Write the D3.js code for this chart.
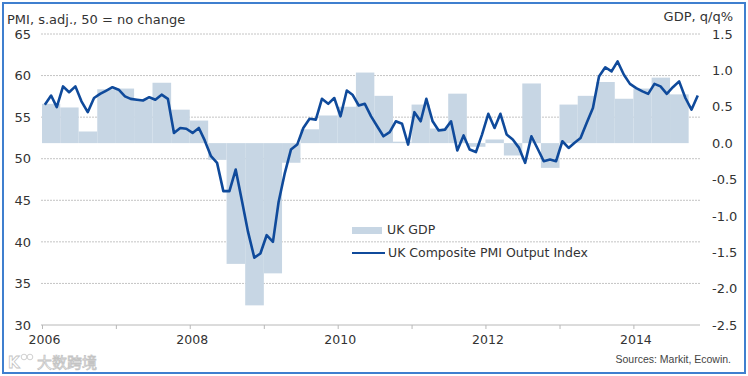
<!DOCTYPE html>
<html>
<head>
<meta charset="utf-8">
<script src="https://cdn.jsdelivr.net/npm/d3@7"></script>
<style>
  body { margin: 0; background: #fff; }
  svg text { font-family: "DejaVu Sans", sans-serif; fill: #333; }
</style>
</head>
<body>
<div id="chart"></div>
<script>
// UK composite PMI output index, monthly from Jan 2006 to Nov 2014
const pmiValues = [
    56.5, 57.6, 56.2, 58.7, 58.0, 58.7, 56.9, 55.6, 57.3, 57.8, 58.2, 58.6,
    58.3, 57.5, 57.2, 57.1, 57.0, 57.4, 57.1, 57.7, 57.2, 53.1, 53.7, 53.6,
    53.1, 53.7, 52.2, 50.3, 49.5, 46.1, 46.1, 48.7, 44.9, 41.2, 38.1, 38.6,
    40.8, 40.0, 44.8, 48.3, 51.1, 51.7, 53.7, 54.8, 54.7, 57.2, 56.6, 57.3,
    55.1, 58.2, 57.7, 56.4, 56.6, 55.1, 53.9, 52.7, 53.2, 54.5, 54.2, 51.7,
    55.6, 54.5, 57.2, 54.5, 53.4, 53.5, 54.5, 51.0, 52.8, 51.1, 50.8, 52.9,
    55.4, 53.7, 55.4, 52.9, 52.3, 51.3, 49.5, 52.7, 51.2, 49.7, 49.9, 49.7,
    52.1, 51.3, 51.9, 52.5, 54.3, 56.1, 59.9, 61.0, 60.5, 61.7, 60.1, 59.0,
    58.5, 58.1, 57.8, 59.0, 58.7, 57.8, 58.6, 59.3, 57.3, 55.9, 57.6
];

// UK GDP q/q %, quarterly from 2006 Q1 to 2014 Q3
const gdpValues = [
    0.54, 0.49, 0.16, 0.74,
    0.75, 0.60, 0.83, 0.46,
    0.31, -0.23, -1.66, -2.23,
    -1.79, -0.27, 0.19, 0.38,
    0.50, 0.97, 0.65, 0.02,
    0.53, 0.20, 0.68, -0.05,
    0.05, -0.17, 0.82, -0.34,
    0.53, 0.65, 0.84, 0.61,
    0.75, 0.90, 0.67
];

const pmiTicks = [30, 35, 40, 45, 50, 55, 60, 65];
const gdpTicks = [-2.5, -2.0, -1.5, -1.0, -0.5, 0.0, 0.5, 1.0, 1.5];
const yearTicks = [2006, 2007, 2008, 2009, 2010, 2011, 2012, 2013, 2014];
const yearLabels = [2006, 2008, 2010, 2012, 2014];

const width = 748, height = 376;
const barColor = "#c7d6e4";
const lineColor = "#0f4a9b";

const svg = d3.select("#chart").append("svg")
    .attr("width", width)
    .attr("height", height);

const x = d3.scaleTime()
    .domain([new Date(2006, 0, 1), new Date(2014, 11, 1)])
    .range([42, 701]);

const yL = d3.scaleLinear().domain([30, 65]).range([325, 34]);
const yR = d3.scaleLinear().domain([-2.5, 1.5]).range([325, 34]);

// frame
svg.append("rect")
    .attr("x", 3).attr("y", 3)
    .attr("width", 742).attr("height", 370)
    .attr("fill", "none")
    .attr("stroke", "#3f7fcf")
    .attr("stroke-width", 2);

// grid lines
svg.append("g")
    .selectAll("line")
    .data(pmiTicks.filter(d => d > 30))
    .enter().append("line")
    .attr("x1", 41).attr("x2", 700)
    .attr("y1", d => yL(d)).attr("y2", d => yL(d))
    .attr("stroke", "#c4c4c4")
    .attr("stroke-dasharray", "2,1");

// GDP bars
svg.append("g")
    .selectAll("rect")
    .data(gdpValues)
    .enter().append("rect")
    .attr("x", (d, i) => x(new Date(2006, i * 3, 1)))
    .attr("width", (d, i) => x(new Date(2006, i * 3 + 3, 1)) - x(new Date(2006, i * 3, 1)))
    .attr("y", d => yR(Math.max(0, d)))
    .attr("height", d => Math.abs(yR(d) - yR(0)))
    .attr("fill", barColor);

// PMI line, plotted mid-month
const pmiData = pmiValues.map((v, i) => ({ date: new Date(2006, i, 15), v: v }));
svg.append("path")
    .datum(pmiData)
    .attr("fill", "none")
    .attr("stroke", lineColor)
    .attr("stroke-width", 2.6)
    .attr("stroke-linejoin", "round")
    .attr("d", d3.line().x(d => x(d.date)).y(d => yL(d.v)));

// x-axis
const xAxis = svg.append("g")
    .attr("transform", "translate(0,325)")
    .call(d3.axisBottom(x)
        .tickValues(yearTicks.map(y => new Date(y, 0, 1)))
        .tickSize(4)
        .tickSizeOuter(0)
        .tickPadding(6)
        .tickFormat(d => yearLabels.includes(d.getFullYear()) ? d.getFullYear() : ""));
xAxis.select(".domain").attr("stroke", "#b8b8b8").attr("d", "M41,0H700");
xAxis.selectAll(".tick line").attr("stroke", "#b8b8b8");
xAxis.selectAll("text").attr("font-size", 12.5).attr("dx", 2).style("fill", "#333");

// left axis
const leftAxis = svg.append("g")
    .attr("transform", "translate(41,0)")
    .call(d3.axisLeft(yL).tickValues(pmiTicks).tickSize(0).tickPadding(10));
leftAxis.select(".domain").remove();
leftAxis.selectAll("text").attr("font-size", 13).style("fill", "#333");

// right axis
const rightAxis = svg.append("g")
    .attr("transform", "translate(700,0)")
    .call(d3.axisRight(yR).tickValues(gdpTicks).tickSize(0).tickPadding(12)
        .tickFormat(d => d.toFixed(1)));
rightAxis.select(".domain").remove();
rightAxis.selectAll("text").attr("font-size", 13).style("fill", "#333");

// axis titles
svg.append("text")
    .attr("x", 7).attr("y", 24)
    .attr("font-size", 13)
    .text("PMI, s.adj., 50 = no change");

svg.append("text")
    .attr("x", 733).attr("y", 21)
    .attr("text-anchor", "end")
    .attr("font-size", 13)
    .text("GDP, q/q%");

// legend
const legend = svg.append("g");
legend.append("rect")
    .attr("x", 352).attr("y", 227)
    .attr("width", 30).attr("height", 7)
    .attr("fill", barColor);
legend.append("text")
    .attr("x", 387).attr("y", 234)
    .attr("font-size", 12.5)
    .text("UK GDP");
legend.append("line")
    .attr("x1", 352).attr("x2", 385)
    .attr("y1", 253).attr("y2", 253)
    .attr("stroke", lineColor)
    .attr("stroke-width", 2);
legend.append("text")
    .attr("x", 388).attr("y", 257)
    .attr("font-size", 12.5)
    .text("UK Composite PMI Output Index");

// source note
svg.append("text")
    .attr("x", 731).attr("y", 363)
    .attr("text-anchor", "end")
    .attr("font-size", 10.5)
    .style("font-family", "'Liberation Sans', Arial, sans-serif")
    .style("fill", "#444")
    .text("Sources: Markit, Ecowin.");

// watermark
const mark = svg.append("g");
mark.append("text")
    .attr("x", 8).attr("y", 368)
    .attr("font-size", 15)
    .attr("font-weight", "bold")
    .style("fill", "#fff")
    .style("stroke", "#c4c4c4")
    .style("stroke-width", 0.8)
    .text("K");
mark.selectAll("circle")
    .data([24, 30])
    .enter().append("circle")
    .attr("cx", d => d).attr("cy", 357)
    .attr("r", 2.8)
    .attr("fill", "#fff")
    .attr("stroke", "#c4c4c4")
    .attr("stroke-width", 0.8);
mark.append("text")
    .attr("x", 37).attr("y", 368)
    .attr("font-size", 15)
    .style("font-family", "'Noto Sans CJK SC', sans-serif")
    .style("fill", "#fff")
    .style("stroke", "#c4c4c4")
    .style("stroke-width", 0.8)
    .text("大数跨境");
</script>
</body>
</html>
